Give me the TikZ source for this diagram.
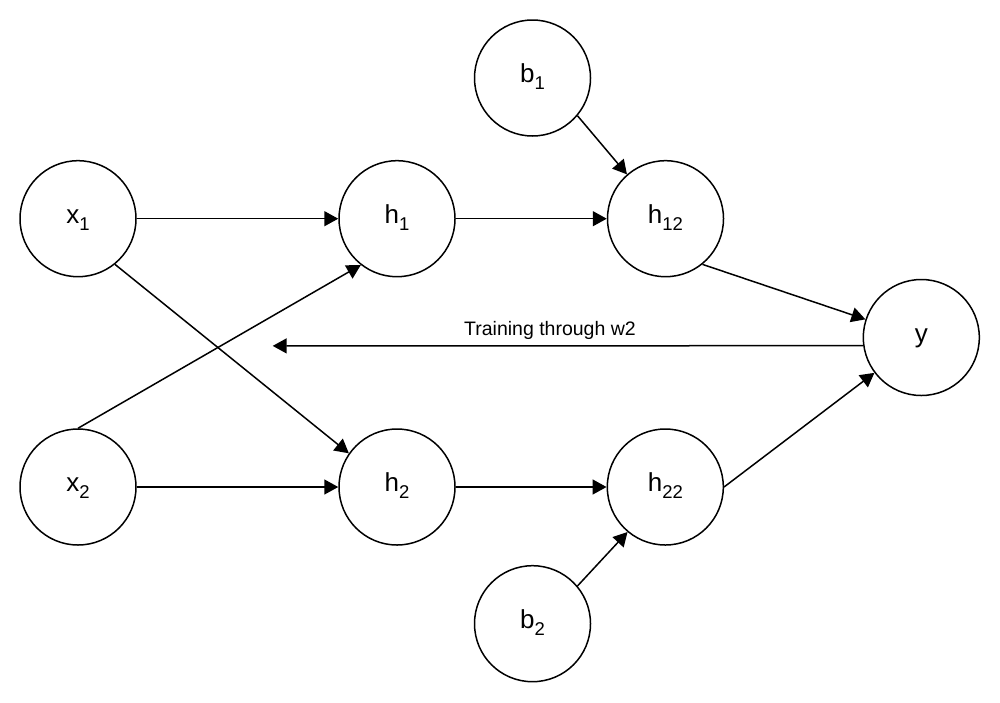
\documentclass[tikz,border=0pt]{standalone}
\usepackage{fontspec}
\setmainfont{Liberation Sans}
\usetikzlibrary{arrows.meta}
\newcommand{\lab}[2]{#1\raisebox{-6.7pt}{\fontsize{18.5}{18.5}\selectfont #2}}
\tikzset{
  neuron/.style={circle,draw,line width=1.5pt,minimum size=116pt,inner sep=0pt,
    text height=15pt,text depth=5.8pt,font=\fontsize{26}{26}\selectfont},
  conn/.style={line width=1.5pt,-{Triangle[length=14pt,width=15pt]}},
  lbl/.style={font=\fontsize{19.5}{20}\selectfont}
}
\begin{document}
\begin{tikzpicture}[x=1pt,y=-1pt]
\useasboundingbox (0,0) rectangle (1000,702);
\node[neuron] (x1) at (78,218.7) {\lab{x}{1}};
\node[neuron] (x2) at (78,487) {\lab{x}{2}};
\node[neuron] (h1) at (397,218.7) {\lab{h}{1}};
\node[neuron] (h2) at (397,487) {\lab{h}{2}};
\node[neuron] (h12) at (665.5,218.7) {\lab{h}{12}};
\node[neuron] (h22) at (665.3,487) {\lab{h}{22}};
\node[neuron] (b1) at (532.5,78) {\lab{b}{1}};
\node[neuron] (b2) at (532.5,623.7) {\lab{b}{2}};
\node[neuron] (y) at (921.3,337.5) {y};
\coordinate (tend) at (272.7,345.9);
\draw[conn] (x1.0) -- (h1.180);
\draw[conn] (x1.-51) -- (h2.145);
\draw[conn] (x2.90) -- (h1.232);
\draw[conn] (x2.0) -- (h2.180);
\draw[conn] (h1.0) -- (h12.180);
\draw[conn] (h2.0) -- (h22.180);
\draw[conn] (b1.-40) -- (h12.131);
\draw[conn] (b2.40) -- (h22.230);
\draw[conn] (h12.-51) -- (y.162);
\draw[conn] (h22.0) -- (y.217);
\draw[conn] (y.188.4) -- (tend);
\node[lbl,anchor=base] (tl) at (550,335) {Training through w2};
\end{tikzpicture}
\end{document}
